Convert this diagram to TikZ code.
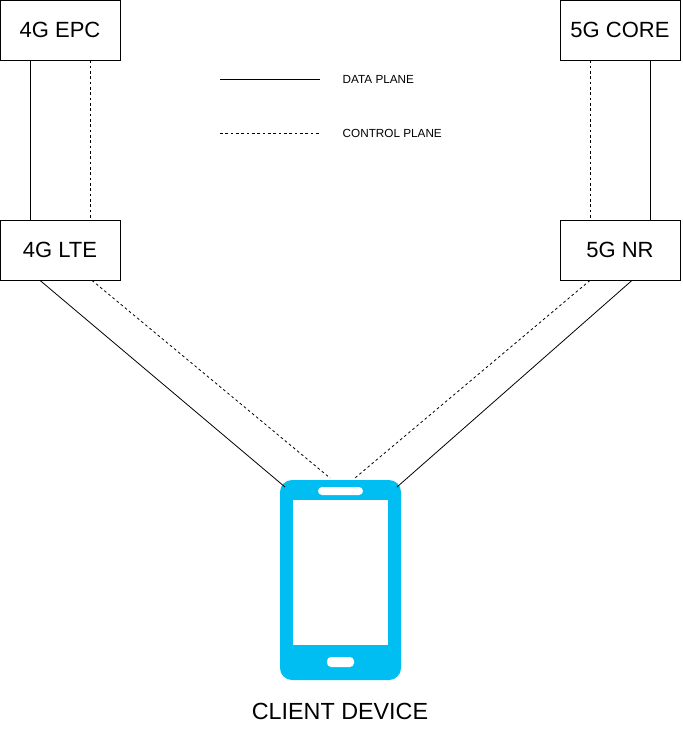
\documentclass[tikz,border=0pt]{standalone}
\usepackage{fontspec}
\setmainfont{Liberation Sans}
\begin{document}
\begin{tikzpicture}[x=0.75pt,y=-0.75pt,
  box/.style={draw,fill=white,minimum width=90pt,minimum height=45pt,inner sep=0pt,font=\fontsize{16.5}{19}\selectfont,line width=0.6pt},
  dp/.style={line width=0.6pt},
  cp/.style={line width=0.6pt,dash pattern=on 2pt off 2pt},
  leg/.style={font=\fontsize{8.8}{10}\selectfont,anchor=west}]
\useasboundingbox (0,0) rectangle (682,731);
\definecolor{phone}{HTML}{00BEF2}
\node[box] (epc) at (60,30) {4G EPC};
\node[box] (core) at (620,30) {5G CORE};
\node[box] (lte) at (60,250) {4G LTE};
\node[box] (nr) at (620,250) {5G NR};
% phone
\fill[phone,rounded corners=9pt] (280,480) rectangle (401,680);
\fill[white] (293,500) rectangle (388,645);
\fill[white,rounded corners=3pt] (318,487) rectangle (363,495);
\fill[white,rounded corners=3pt] (327,657) rectangle (354,667);
\coordinate (pl) at (285,487);
\coordinate (plc) at (330,478);
\coordinate (prc) at (355,478);
\coordinate (pr) at (397,487);
\node (cd) at (340,711) {\fontsize{17.5}{20}\selectfont CLIENT DEVICE};
% links
\draw[dp] (epc.south -| 30,0) -- (lte.north -| 30,0);
\draw[cp] (epc.south -| 90,0) -- (lte.north -| 90,0);
\draw[cp] (core.south -| 590,0) -- (nr.north -| 590,0);
\draw[dp] (core.south -| 650,0) -- (nr.north -| 650,0);
\draw[dp] (lte.south -| 40,0) -- (pl);
\draw[cp] (lte.south -| 92,0) -- (plc);
\draw[cp] (nr.south -| 590,0) -- (prc);
\draw[dp] (nr.south -| 632,0) -- (pr);
% legend
\coordinate (l1a) at (220,79); \coordinate (l1b) at (320,79);
\coordinate (l2a) at (220,133); \coordinate (l2b) at (320,133);
\draw[dp] (l1a) -- (l1b);
\draw[cp] (l2a) -- (l2b);
\node[leg] (t1) at (338,79) {DATA PLANE};
\node[leg] (t2) at (338,133) {CONTROL PLANE};
\end{tikzpicture}
\end{document}
